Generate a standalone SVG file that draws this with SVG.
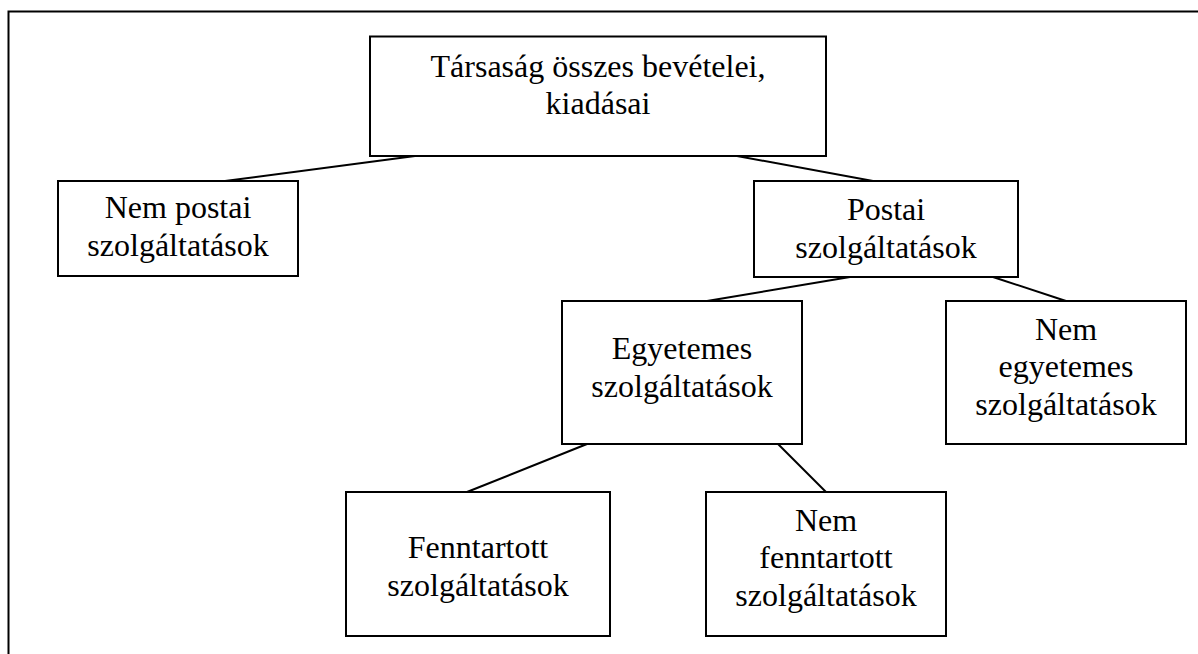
<svg xmlns="http://www.w3.org/2000/svg" width="1198" height="654" viewBox="0 0 1198 654">
<style>
.box{fill:#fff;stroke:#000;stroke-width:2}
.ln{stroke:#000;stroke-width:2;fill:none}
text{font-family:"Liberation Serif","Times New Roman",serif;font-size:32px;fill:#000;text-anchor:middle}
</style>
<rect width="1198" height="654" fill="#fff"/>
<path class="ln" d="M8.5,654 V11.5 H1198"/>
<g id="connectors">
<line class="ln" x1="415" y1="156" x2="225" y2="181"/>
<line class="ln" x1="737" y1="156" x2="873" y2="181"/>
<line class="ln" x1="850" y1="277" x2="707" y2="301"/>
<line class="ln" x1="993" y1="277" x2="1066" y2="301"/>
<line class="ln" x1="587" y1="444" x2="467" y2="492"/>
<line class="ln" x1="778" y1="444" x2="826" y2="492"/>
</g>
<g id="root">
<rect class="box" x="370" y="36.5" width="456" height="119.5"/>
<text x="598" y="77">Társaság összes bevételei,</text>
<text x="598" y="114">kiadásai</text>
</g>
<g id="nem-postai">
<rect class="box" x="58" y="181" width="240" height="95"/>
<text x="178" y="218">Nem postai</text>
<text x="178" y="256">szolgáltatások</text>
</g>
<g id="postai">
<rect class="box" x="754" y="181" width="264" height="96"/>
<text x="886" y="220">Postai</text>
<text x="886" y="258">szolgáltatások</text>
</g>
<g id="egyetemes">
<rect class="box" x="562" y="301" width="240" height="143"/>
<text x="682" y="359">Egyetemes</text>
<text x="682" y="397">szolgáltatások</text>
</g>
<g id="nem-egyetemes">
<rect class="box" x="946" y="301" width="240" height="143"/>
<text x="1066" y="340">Nem</text>
<text x="1066" y="377">egyetemes</text>
<text x="1066" y="415">szolgáltatások</text>
</g>
<g id="fenntartott">
<rect class="box" x="346" y="492" width="264" height="144"/>
<text x="478" y="558">Fenntartott</text>
<text x="478" y="596">szolgáltatások</text>
</g>
<g id="nem-fenntartott">
<rect class="box" x="706" y="492" width="240" height="144"/>
<text x="826" y="531">Nem</text>
<text x="826" y="568">fenntartott</text>
<text x="826" y="606">szolgáltatások</text>
</g>
</svg>
